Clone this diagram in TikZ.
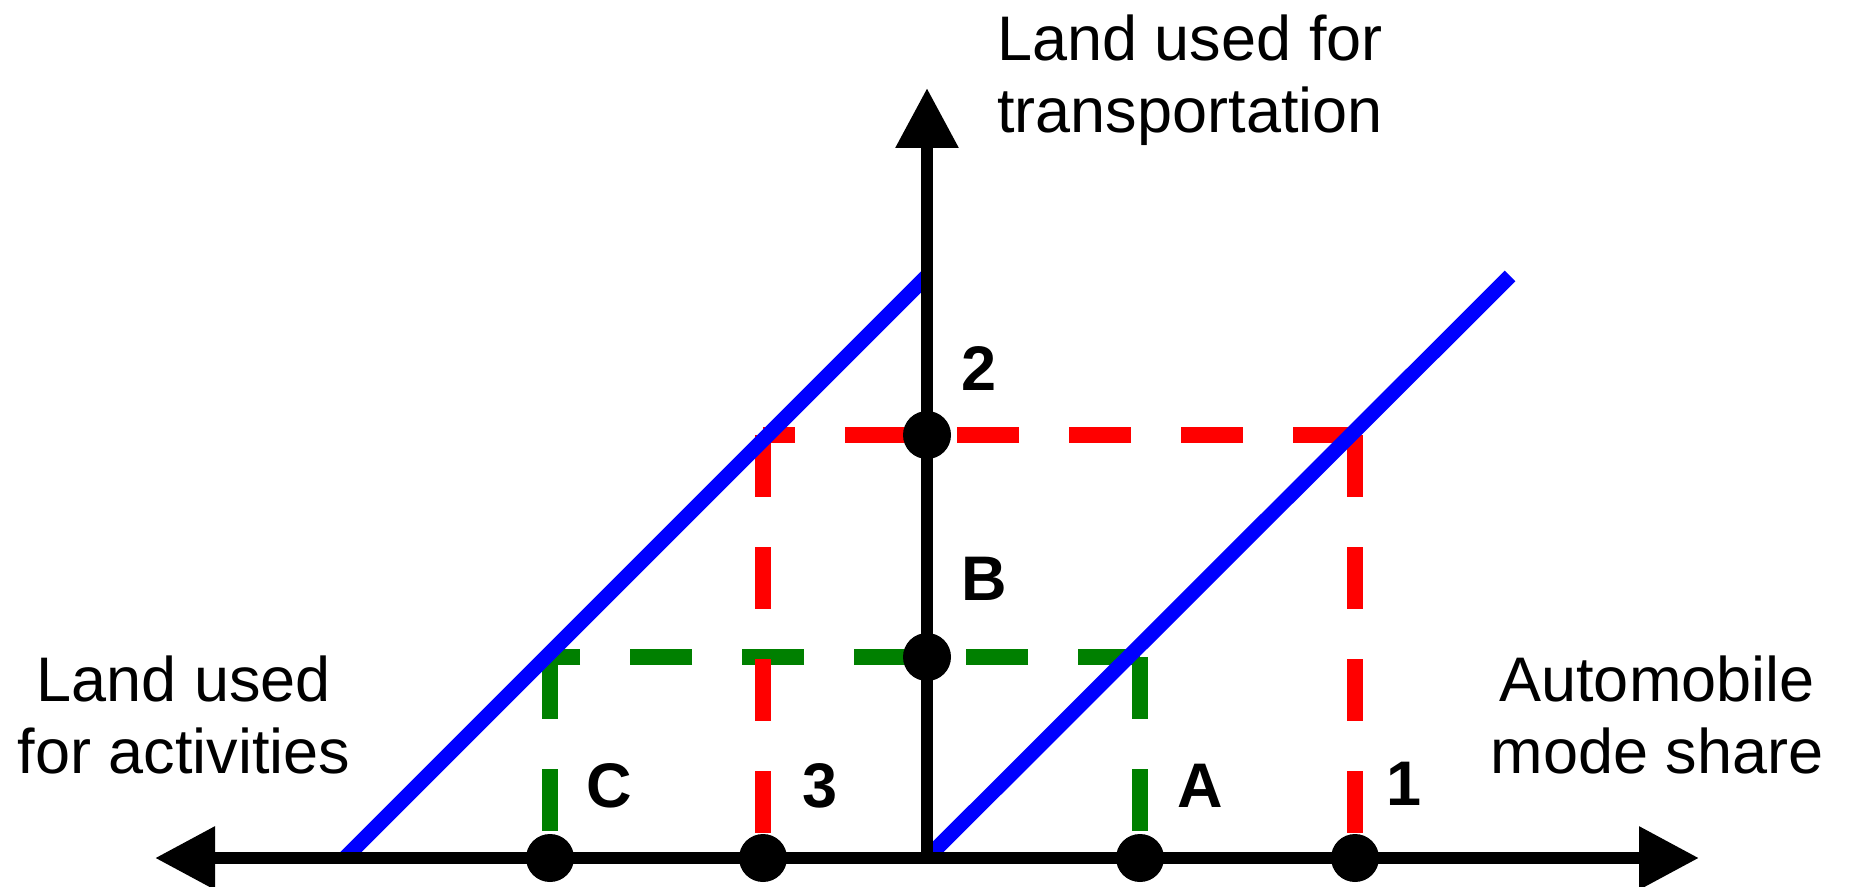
\documentclass[tikz,border=0pt]{standalone}
\usepackage{fontspec}
\setmainfont{Liberation Sans}
\usetikzlibrary{arrows.meta, calc}
\pgfdeclarelayer{background}
\pgfsetlayers{background,main}

\begin{document}
\begin{tikzpicture}[
    x=0.5pt, y=-0.5pt,
    >={Triangle[length=30pt, width=30pt]},
    axis/.style={draw, line width=6.25pt, color=black},
    dot/.style={circle, fill=black, inner sep=0pt, minimum size=24pt},
    curve/.style={draw, line width=7.5pt, color=blue},
    reddash/.style={draw, line width=8pt, color=red, dash pattern=on 31pt off 25pt},
    greendash/.style={draw, line width=8pt, color=green!50!black, dash pattern=on 31pt off 25pt},
    axlabel/.style={align=center, inner sep=0pt, font=\fontsize{31.5}{36}\selectfont},
    tag/.style={inner sep=0pt, font=\fontsize{31.5}{36}\selectfont\bfseries}
]
    \useasboundingbox (0,0) rectangle (1850,887);

    % axes
    \coordinate (O) at (927,858);
    \coordinate (xneg) at (155,858);
    \coordinate (xpos) at (1699,858);
    \coordinate (yend) at (927,88);
    \draw[axis, <->] (xneg) -- (xpos);
    \draw[axis, ->] (O) -- (yend);

    % points on the axes
    \node[dot] (pC) at (550,858) {};
    \node[dot] (p3) at (763,858) {};
    \node[dot] (pA) at (1140,858) {};
    \node[dot] (p1) at (1355,858) {};
    \node[dot] (p2) at (927,435) {};
    \node[dot] (pB) at (927,657) {};

    \coordinate (r3) at (p3 |- p2);
    \coordinate (r1) at (p1 |- p2);
    \coordinate (gC) at (pC |- pB);
    \coordinate (gA) at (pA |- pB);
    \coordinate (lowL) at (345,858);
    \coordinate (topL) at (927,276);
    \coordinate (topR) at (1510,276);

    \begin{pgfonlayer}{background}
        \draw[greendash] (gA) -- (gC);
        \draw[greendash] (gC) -- (pC);
        \draw[greendash] (gA) -- (pA);
        \draw[reddash] (r1) -- (r3);
        \draw[reddash] (r3) -- (p3);
        \draw[reddash] (r1) -- (p1);
        \draw[curve] (lowL) -- (topL);
        \draw[curve] (O) -- (topR);
    \end{pgfonlayer}

    % axis titles
    \node[axlabel] (transp) at (1190,80) {Land used for\\transportation};
    \node[axlabel] (activ) at (184,715) {Land used\\for activities};
    \node[axlabel] (share) at (1657,715) {Automobile\\mode share};

    % point labels
    \node[tag] (t2) at ($(p2)+(52,-66)$) {2};
    \node[tag] (tB) at ($(pB)+(57,-78)$) {B};
    \node[tag] (tC) at ($(pC)+(59,-72)$) {C};
    \node[tag] (t3) at ($(p3)+(57,-72)$) {3};
    \node[tag] (tA) at ($(pA)+(60,-72)$) {A};
    \node[tag] (t1) at ($(p1)+(49,-74)$) {1};
\end{tikzpicture}
\end{document}
